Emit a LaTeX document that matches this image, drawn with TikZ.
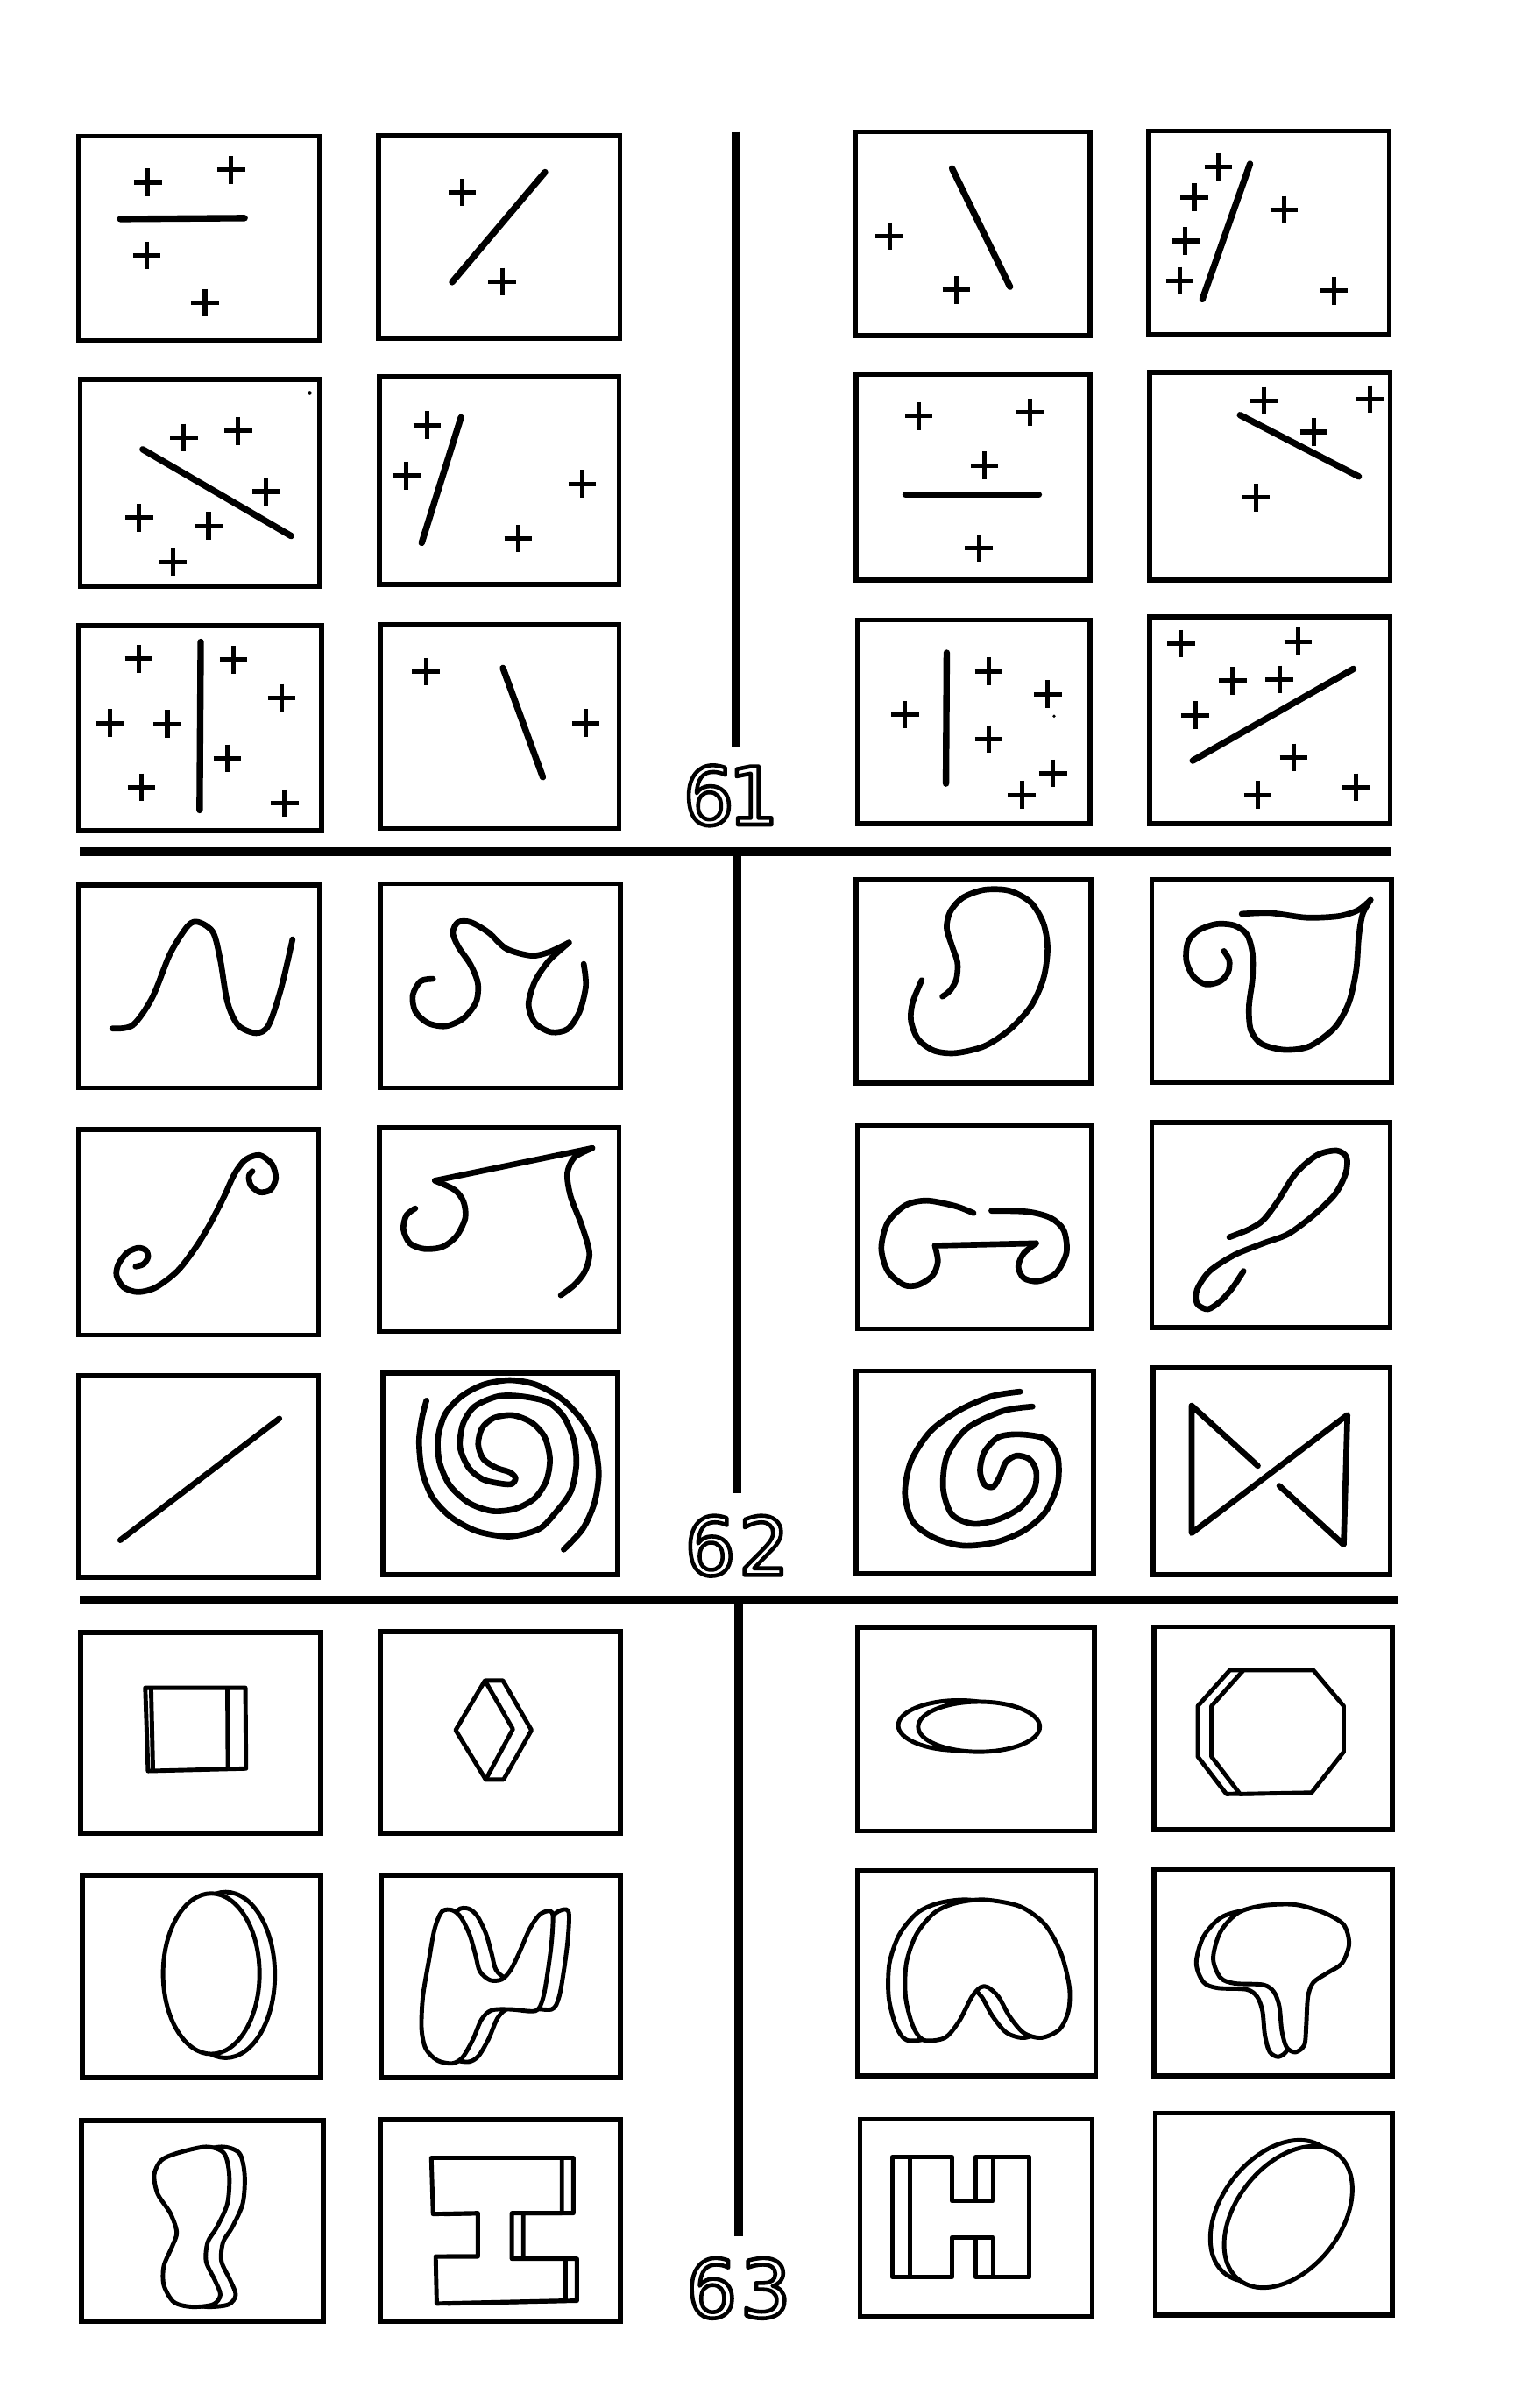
\documentclass[tikz,border=0pt]{standalone}
\usepackage{fontspec}
\newfontfamily\labfont{DejaVu Sans}
\newcommand\outl[1]{\special{pdf:code 1 Tr 1.3 w 1 j}#1\special{pdf:code 0 Tr}}
\newcommand\shpBlob[1]{\draw[#1] plot[smooth cycle] coordinates {(287.8,1244.7) (294.5,1243.8) (300.2,1248.5) (305.9,1260.0) (309.7,1273.3) (312.5,1283.7) (319.2,1289.4) (326.8,1288.9) (332.5,1282.8) (338.2,1271.4) (344.9,1256.1) (351.5,1246.6) (358.2,1244.3) (360.1,1248.5) (359.1,1265.7) (356.3,1286.6) (353.4,1301.8) (348.7,1309.4) (332.5,1308.4) (320.1,1309.0) (313.5,1315.1) (307.8,1328.4) (301.1,1339.8) (294.5,1343.6) (284.9,1341.7) (277.3,1334.1) (274.5,1320.8) (275.4,1299.9) (279.2,1277.1) (283.0,1256.1)};}
\newcommand\shpArch[1]{\draw[#1] plot[smooth cycle] coordinates {(641.0,1237.0) (664.3,1241.4) (680.6,1253.3) (691.0,1272.1) (696.4,1294.0) (695.7,1309.7) (689.9,1321.5) (678.2,1326.9) (666.6,1323.7) (657.3,1312.8) (650.3,1300.3) (643.3,1294.0) (638.6,1294.0) (632.8,1300.3) (624.7,1315.9) (615.3,1326.9) (601.4,1328.4) (594.4,1319.0) (589.7,1300.3) (590.2,1278.4) (596.7,1259.6) (608.4,1245.5) (622.3,1239.2)};}
\newcommand\shpMush[1]{\draw[#1] plot[smooth cycle] coordinates {(790.0,1275.2) (794.7,1258.0) (806.3,1245.5) (822.6,1240.8) (843.6,1240.2) (862.2,1245.5) (875.0,1253.3) (878.5,1265.8) (873.9,1278.4) (864.5,1284.6) (855.2,1290.9) (851.7,1300.3) (850.6,1319.0) (849.4,1331.6) (843.6,1336.3) (837.8,1333.1) (834.7,1322.2) (833.1,1306.5) (829.6,1297.1) (822.6,1292.4) (804.0,1291.5) (794.7,1287.7)};}
\newcommand\shpPeanut[1]{\draw[#1] plot[smooth cycle] coordinates {(115.5,1402.0) (134.2,1397.9) (145.8,1402.0) (149.3,1416.1) (148.1,1434.8) (141.1,1450.5) (135.3,1459.9) (134.2,1472.4) (140.0,1484.9) (143.5,1494.3) (138.8,1500.6) (124.8,1502.1) (113.2,1499.0) (106.7,1488.0) (106.7,1475.5) (112.0,1463.0) (115.1,1453.6) (110.9,1441.1) (102.7,1428.6) (100.4,1416.1) (105.0,1406.7)};}
\newcommand\shpOct[1]{\draw[#1] (809.8,1087.5) -- (855.2,1087.5) -- (875.0,1110.9) -- (875.0,1140.7) -- (854.1,1167.3) -- (807.5,1168.2) -- (788.9,1143.8) -- (788.9,1110.9) -- cycle;}
\newcommand\shpBeam[1]{\draw[#1] (280.9,1405.1) -- (365.9,1405.1) -- (365.9,1441.1) -- (333.3,1441.1) -- (333.3,1470.8) -- (368.2,1470.8) -- (368.2,1498.1) -- (284.4,1500.0) -- (283.7,1469.3) -- (311.2,1469.3) -- (311.2,1441.1) -- (282.0,1441.7) -- cycle;}
\newcommand\shpH[1]{\draw[#1] (592.3,1404.6) -- (619.9,1404.6) -- (619.9,1433.2) -- (646.5,1433.2) -- (646.5,1404.6) -- (670.3,1404.6) -- (670.3,1482.6) -- (646.5,1482.6) -- (646.5,1456.9) -- (619.9,1456.9) -- (619.9,1482.6) -- (592.3,1482.6) -- cycle;}
\begin{document}
\begin{tikzpicture}[x=0.5pt,y=-0.5pt,
  box/.style={draw=black,line width=1.6pt},
  seg/.style={line width=2.1pt,line cap=round},
  crossln/.style={line width=1.45pt},
  crv/.style={line width=1.9pt,line cap=round,line join=round},
  shp/.style={draw=black,line width=1.4pt,line join=round,fill=white},
  divider/.style={line width=2.7pt},
  lab/.style={text=black,font=\labfont\fontsize{26}{26}\selectfont,inner sep=0pt},
  crs/.pic={\draw[crossln] (-9,0)--(9,0) (0,-9)--(0,9);}
]
\fill[white] (0,0) rectangle (986,1568);
\useasboundingbox (0,0) rectangle (986,1568);

% ---------- dividers ----------
\draw[divider] (479,86) -- (479,486);
\draw[divider] (52,554.5) -- (906,554.5);
\draw[divider] (480,557) -- (480,972);
\draw[divider] (52,1042) -- (910,1042);
\draw[divider] (481,1044) -- (481,1456);
\node[lab] (l61) at (476,518) {\outl{6\kern-2pt1}};
\node[lab] (l62) at (480,1006.6) {\outl{6\kern1pt2}};
\node[lab] (l63) at (481,1490) {\outl{6\kern1pt3}};

% ---------- section 61 boxes ----------
\draw[box] (51.5,88.8) rectangle (208.2,221.6);
\draw[box] (246.4,88.2) rectangle (403.8,220.1);
\draw[box] (557.1,85.9) rectangle (709.7,218.6);
\draw[box] (748.1,85.3) rectangle (904.6,218.0);
\draw[box] (52.2,247.0) rectangle (208.2,381.9);
\draw[box] (247.1,245.5) rectangle (403.2,380.7);
\draw[box] (557.6,244.0) rectangle (709.7,377.7);
\draw[box] (748.6,242.5) rectangle (905.3,377.7);
\draw[box] (51.5,407.5) rectangle (209.4,540.9);
\draw[box] (247.8,406.6) rectangle (403.2,539.4);
\draw[box] (558.3,403.6) rectangle (709.7,536.4);
\draw[box] (748.6,401.6) rectangle (905.3,536.4);

% b11
\draw[seg] (78.3,142.6) -- (159.3,142.0);
\foreach \p in {(96.4,118.7),(150.5,110.6),(95.7,166.4),(133.5,197.2)} \pic at \p {crs};
% b12
\draw[seg] (294.4,183.7) -- (354.9,112.1);
\foreach \p in {(301.1,125.2),(327,183.4)} \pic at \p {crs};
% b21
\draw[seg] (92.9,292.6) -- (189.6,349.0);
\foreach \p in {(119.7,284.9),(155.1,280.7),(173.3,320.1),(90.6,337.1),(135.8,342.5),(112.5,365.8)} \pic at \p {crs};
\fill (201.7,255.9) circle (1.3);
% b22
\draw[seg] (300.2,271.8) -- (274.6,353.5);
\foreach \p in {(278.1,276.8),(264.6,309.7),(379.2,315.0),(337.5,350.5)} \pic at \p {crs};
% b31
\draw[seg] (130.7,418) -- (130,527.5);
\foreach \p in {(90.4,429),(152.1,429.6),(183.5,454.4),(71.7,470.8),(109,471.4),(148.1,493.8),(92.2,512.6),(185.4,523)} \pic at \p {crs};
% b32
\draw[seg] (327.5,435) -- (353.5,506);
\foreach \p in {(277.4,437.4),(381.5,470.8)} \pic at \p {crs};
% b13
\draw[seg] (620,109.7) -- (657.7,186.7);
\foreach \p in {(579.2,153.9),(622.8,188.8)} \pic at \p {crs};
% b14
\draw[seg] (814,106.7) -- (783,194.8);
\foreach \p in {(793.5,108.8),(777.7,128.5),(771.9,156.9),(768.4,182.8),(836.1,136.6),(868.7,189.4)} \pic at \p {crs};
% b23
\draw[seg] (589.7,322.2) -- (676.4,322.2);
\foreach \p in {(598.3,270.9),(670.5,268.5),(641,303.1),(637.5,356.8)} \pic at \p {crs};
% b24
\draw[seg] (807.5,270.3) -- (884.8,310.3);
\foreach \p in {(823.3,261),(892,259.8),(855.7,281.3),(818,324)} \pic at \p {crs};
% b33
\draw[seg] (616.5,425.1) -- (616,510.2);
\foreach \p in {(589.3,465.4),(643.8,437.1),(682.4,452),(644,481.2),(685.7,503.6),(665.4,517.6)} \pic at \p {crs};
\fill (686.4,466.3) circle (1.1);
% b34
\draw[seg] (776.7,495.3) -- (881.3,435.6);
\foreach \p in {(769.1,419.2),(845.2,417.7),(802.8,443.3),(833.1,442.4),(778.4,465.7),(842.4,493.2),(819.1,517.6),(883.2,512.6)} \pic at \p {crs};

% ---------- section 62 boxes ----------
\draw[box] (51.5,576.4) rectangle (208.2,708.4);
\draw[box] (247.8,575.5) rectangle (403.9,708.4);
\draw[box] (557.6,572.5) rectangle (710.4,705.4);
\draw[box] (750.0,572.5) rectangle (906.0,704.8);
\draw[box] (51.5,735.6) rectangle (207.5,869.4);
\draw[box] (247.1,734.0) rectangle (403.2,867.0);
\draw[box] (558.3,732.5) rectangle (710.8,865.4);
\draw[box] (750.0,731.0) rectangle (905.3,864.5);
\draw[box] (51.5,895.6) rectangle (207.5,1027.0);
\draw[box] (249.2,894.0) rectangle (402.3,1025.2);
\draw[box] (557.6,892.6) rectangle (712.0,1024.6);
\draw[box] (750.9,890.5) rectangle (905.3,1025.5);

% c11
\draw[crv] plot[smooth] coordinates {(73.1,669.7) (86.4,667.6) (99.2,649.5) (110.9,620.8) (122.5,602.7) (129.5,600.5) (138.8,607.2) (143.5,625.3) (148.1,652.5) (155.1,667.6) (166.8,672.7) (174.9,667.6) (183.1,643.4) (190.5,611.7)};
% c12
\draw[crv] plot[smooth] coordinates {(282.0,637.4) (273.9,638.9) (268.8,648.0) (270.4,658.5) (278.5,666.1) (290.2,668.2) (301.8,663.1) (310.0,652.5) (311.2,640.4) (306.5,628.3) (298.3,616.2) (294.9,607.2) (298.3,600.5) (306.5,600.5) (318.1,607.2) (329.8,617.8) (346.1,622.3) (357.7,619.9) (370.5,613.8)};
\draw[crv] plot[smooth] coordinates {(370.5,613.8) (357.7,625.3) (348.4,638.9) (344.2,654.0) (348.4,666.1) (358.9,672.1) (369.8,670.0) (377.5,658.5) (381.5,641.9) (380.1,627.7)};
% c21
\draw[crv] plot[smooth] coordinates {(88.3,824.7) (93.4,823.2) (96.4,818.6) (95.0,814.1) (89.9,812.6) (82.9,815.6) (77.1,823.2) (75.9,830.7) (80.6,838.3) (89.9,841.3) (101.5,838.3) (115.5,827.7) (127.2,812.6) (136.5,797.5) (145.8,779.4) (152.8,764.3) (159.8,755.2) (169.1,752.2) (177.2,758.2) (179.6,767.3) (176.1,774.8) (169.1,776.3) (163.3,771.8) (162.1,765.8) (164.4,762.7)};
% c22
\draw[crv] plot[smooth] coordinates {(270.4,786.9) (264.6,791.4) (262.7,800.5) (266.9,809.6) (276.2,813.2) (287.9,812.0) (297.2,805.0) (303.0,793.0) (301.8,782.4) (296.0,774.8) (283.2,768.8)};
\draw[crv] (283.2,768.8) -- (385.7,747.6);
\draw[crv] plot[smooth] coordinates {(385.7,747.6) (374.0,753.7) (369.4,764.3) (371.7,779.4) (378.7,797.5) (383.8,815.6) (381.0,827.7) (374.0,836.7) (365.2,843.4)};
% c31
\draw[crv] (78.3,1002.9) -- (181.9,923.7);
% c32 double spiral
\draw[crv] plot[smooth] coordinates {(367.1,1009.0) (379.4,995.7) (387.1,978.6) (389.9,959.6) (387.1,940.6) (379.4,925.3) (366.1,911.1) (349.0,901.6) (331.9,898.7) (314.8,901.6) (300.5,909.2) (290.0,920.6) (285.3,935.8) (286.2,952.0) (292.9,967.2) (305.3,978.6) (320.5,983.9) (335.7,982.4) (348.1,975.7) (355.7,964.3) (358.1,950.1) (354.7,935.8) (346.2,926.3) (333.8,921.5) (321.4,923.4) (313.8,930.1) (311.4,940.6) (314.8,950.1) (323.3,955.8) (331.9,958.6) (335.7,962.4) (333.4,966.2) (327.1,966.2) (314.8,963.4) (305.3,955.8) (299.6,942.5) (301.5,927.2) (309.1,915.8) (324.3,909.2) (339.5,909.2) (356.6,913.0) (367.1,922.5) (373.7,937.7) (375.3,953.9) (371.8,971.0) (362.3,984.3) (350.9,995.7) (331.9,1000.5) (311.0,997.2) (293.9,988.1) (281.5,974.8) (274.8,957.7) (272.9,938.7) (274.8,923.4) (277.7,912.0)};
% c13 kidney
\draw[crv] plot[smooth] coordinates {(613.7,648.9) (618.8,644.9) (622.8,637.4) (623.5,626.8) (620.0,616.2) (616.5,604.2) (618.8,593.6) (627.0,584.5) (641.0,579.4) (657.3,580.0) (671.2,587.6) (679.4,601.1) (682.2,617.8) (679.4,637.4) (671.2,655.5) (657.3,670.6) (641.0,681.2) (622.3,685.7) (608.4,684.2) (597.9,676.7) (593.2,664.6) (594.4,652.5) (600.2,638.3)};
% c14
\draw[crv] plot[smooth] coordinates {(808.6,595.1) (827.3,594.5) (850.6,597.5) (871.5,596.6) (884.3,592.7) (892.5,586.0)};
\draw[crv] plot[smooth] coordinates {(892.5,586.0) (887.4,595.1) (884.8,610.2) (883.2,631.3) (878.5,652.5) (869.2,669.1) (852.9,681.2) (836.6,683.6) (821.5,679.7) (814.5,670.6) (813.3,655.5) (815.6,637.4) (815.6,620.8) (812.1,608.7) (804.0,602.7) (792.3,601.7) (780.7,605.7) (773.7,613.2) (772.5,625.3) (777.2,635.9) (785.4,641.0) (794.7,638.9) (799.8,632.9) (800.5,625.3) (797.0,619.3)};
% c23 scroll
\draw[crv] plot[smooth] coordinates {(634.0,789.9) (622.3,785.4) (603.7,781.8) (589.7,784.8) (578.1,796.0) (573.9,812.6) (578.1,827.7) (588.6,836.7) (597.9,836.7) (607.2,830.7) (610.7,821.6) (608.8,811.1)};
\draw[crv] (608.8,811.1) -- (674.7,809.6);
\draw[crv] plot[smooth] coordinates {(674.7,809.6) (666.6,816.2) (663.1,824.7) (666.6,832.2) (675.9,834.3) (687.5,829.2) (694.5,815.6) (692.7,801.1) (684.1,793.0) (668.9,789.0) (645.6,788.4)};
% c24
\draw[crv] plot[smooth] coordinates {(800.5,805.6) (813.3,800.5) (822.6,794.5) (831.9,782.4) (843.6,764.3) (857.6,752.2) (870.4,749.2) (876.9,753.7) (876.2,764.3) (869.2,777.8) (855.2,791.4) (838.9,803.5) (822.6,809.6) (804.0,817.1) (787.7,827.7) (779.5,839.8) (779.5,848.8) (786.5,852.5) (794.7,847.3) (802.8,838.3) (809.8,827.7)};
% c33 spiral
\draw[crv] plot[smooth] coordinates {(672.4,915.9) (652.6,918.9) (629.3,930.4) (616.5,948.5) (614.2,969.6) (620.0,986.3) (634.0,992.3) (650.3,989.3) (664.3,981.7) (673.6,969.6) (674.7,957.6) (670.1,950.0) (661.9,947.9) (655.0,952.1) (651.4,960.6) (646.8,968.1) (641.0,966.6) (638.2,957.6) (641.0,945.5) (650.3,935.8) (664.3,934.0) (680.6,937.0) (688.7,948.5) (688.7,966.6) (680.6,984.7) (666.6,996.8) (648.0,1004.4) (627.0,1006.5) (608.4,1001.4) (594.4,990.8) (589.3,972.7) (593.2,951.5) (606.0,931.9) (624.7,918.3) (645.6,909.2) (664.3,906.2)};
% c34 bowtie
\draw[crv] (819.1,954.5) -- (776.0,915.3) -- (776.0,998.3) -- (877.4,921.3) -- (875.0,1005.9) -- (833.1,967.5);

% ---------- section 63 boxes ----------
\draw[box] (52.6,1063.0) rectangle (208.7,1193.9);
\draw[box] (247.8,1062.4) rectangle (403.9,1193.9);
\draw[box] (558.3,1059.9) rectangle (712.7,1192.3);
\draw[box] (751.6,1059.3) rectangle (906.5,1191.4);
\draw[box] (53.8,1221.4) rectangle (208.7,1352.8);
\draw[box] (248.3,1221.4) rectangle (403.9,1352.8);
\draw[box] (558.3,1218.3) rectangle (713.6,1351.9);
\draw[box] (751.6,1217.3) rectangle (906.5,1351.9);
\draw[box] (53.1,1381.0) rectangle (210.5,1511.5);
\draw[box] (247.8,1380.1) rectangle (403.9,1511.5);
\draw[box] (560,1380) rectangle (711.2,1508.3);
\draw[box] (752.3,1376.0) rectangle (906.5,1507.4);

% d11 block
\draw[shp] (94.6,1099.0) -- (159.8,1099.0) -- (160.2,1151.6) -- (96.4,1153.2) -- cycle;
\draw[shp] (148.1,1099.5) -- (148.4,1151.8);
\draw[shp] (98.4,1099.5) -- (99.6,1152.8);
% d12 diamond
\draw[shp] (315.8,1094.3) -- (327.5,1094.3) -- (346.1,1126.6) -- (327.9,1158.8) -- (316.3,1158.8) -- (296.7,1126.6) -- cycle;
\draw[shp] (315.8,1094.3) -- (334.0,1125.9) -- (316.3,1158.8);
% d13 flat lens
\draw[shp] (624.5,1123.5) ellipse [x radius=39.6, y radius=16.3];
\draw[shp] (637.5,1124.4) ellipse [x radius=39.6, y radius=16.3];
% d14 octagon
\shpOct{shp, shift={(-8.9,0)}}
\shpOct{shp}
% d21 ellipse
\draw[shp] (147,1286) ellipse [x radius=32, y radius=54];
\draw[shp] (137.6,1285.2) ellipse [x radius=31.4, y radius=52.3];
% d22 blob
\shpBlob{shp, shift={(10.5,-1)}}
\shpBlob{shp}
% d23 arch
\shpArch{shp, shift={(-11,0)}}
\shpArch{shp}
% d24 mushroom
\shpMush{shp, shift={(-11,3)}}
\shpMush{shp}
% d31 peanut
\shpPeanut{shp, shift={(10,0)}}
\shpPeanut{shp}
% d32 beam
\shpBeam{shp, shift={(7.5,0)}}
\shpBeam{shp}
% d33 H
\shpH{shp, shift={(-11.4,0)}}
\shpH{shp}
% d34 tilted ellipse
\draw[shp, shift={(829.9,1439.6)}, rotate=52] (0,0) ellipse [x radius=52, y radius=34];
\draw[shp, shift={(838.9,1443.6)}, rotate=52] (0,0) ellipse [x radius=52, y radius=34];
\end{tikzpicture}
\end{document}
